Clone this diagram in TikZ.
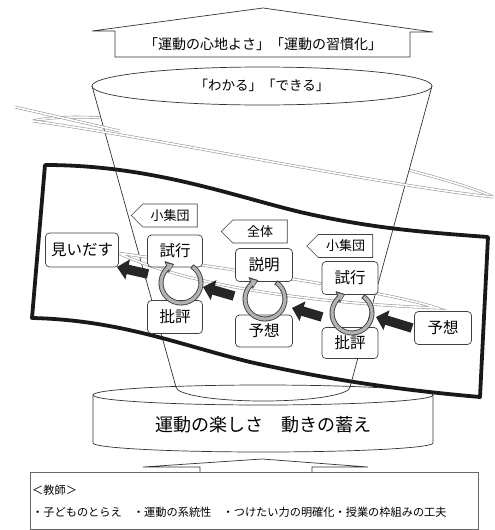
\documentclass[tikz,border=0pt]{standalone}
\usepackage{fontspec}
\setmainfont{Noto Sans CJK JP}
\usetikzlibrary{arrows.meta,shapes.symbols}
\begin{document}
\begin{tikzpicture}[x=1pt,y=-1pt,
  ln/.style={draw=black!80, line width=0.7pt},
  box/.style={draw=black!75, fill=white, rounded corners=4pt, line width=0.7pt, inner sep=0pt, font=\fontsize{15.5}{15.5}\selectfont},
  tag/.style={signal, signal to=west, signal pointer angle=90, draw=black!75, fill=white, line width=0.6pt, inner sep=0pt, minimum width=66pt, minimum height=23pt, font=\fontsize{13}{13}\selectfont},
  ring/.style={draw=black!40, line width=0.6pt, double=white, double distance=1.6pt},
  cyc/.style={line width=5pt, draw=black!75, -{Triangle[length=8pt,width=12pt]}},
  cycin/.style={line width=3.2pt, draw=black!30, -{Triangle[length=5.5pt,width=8pt]}},
  blk/.style={line width=9.5pt, draw=black!85, -{Triangle[length=11pt,width=20pt]}},
  band/.style={draw=black!90, line width=3.8pt, line join=round},
]
\useasboundingbox (0,0) rectangle (495,530);

% upper ring: back edge (hidden by cone)
\coordinate (RL) at (33,121);
\coordinate (RR) at (493,197);
\draw[ring] (RR) .. controls (440,170) and (120,100) .. (RL);

% top arrow
\draw[ln, fill=white] (115,57) -- (115,31) -- (92,31) -- (263,8) -- (433,32) -- (410,32) -- (410,57) -- cycle;
\node[font=\fontsize{14}{14}\selectfont] (toptext) at (263,44) {「運動の心地よさ」「運動の習慣化」};

% cone
\fill[white] (92,86) -- (176,387) -- (350,387) -- (432,86) arc[start angle=0, end angle=-180, x radius=170, y radius=19] -- cycle;
\draw[ln] (262,86) ellipse [x radius=170, y radius=19];
\draw[ln] (92,86) -- (176,387) arc[start angle=180, end angle=0, x radius=87, y radius=14] -- (432,86);
\node[font=\fontsize{13.5}{13.5}\selectfont] (cup) at (262,85) {「わかる」「できる」};

% upper ring: front edge and tail
\draw[ring] (RL) .. controls (150,137) and (380,185) .. (RR);
\coordinate (T1) at (15,107);
\coordinate (T2) at (120,131);
\draw[ring] (T1) -- (T2);

% base
\draw[ln] (263,395) ellipse [x radius=170, y radius=10];
\draw[ln] (93,395) -- (93,443) arc[start angle=180, end angle=0, x radius=170, y radius=9] -- (433,395);
\node[font=\fontsize{18}{18}\selectfont] (base) at (263,425) {運動の楽しさ　動きの蓄え};

% band
\draw[band] (45,165) .. controls (150,165) and (230,195) .. (300,212)
  .. controls (370,228) and (420,232) .. (488,237)
  -- (480,397)
  .. controls (400,390) and (330,380) .. (250,362)
  .. controls (180,345) and (120,320) .. (32,318) -- cycle;

% lower ring
\coordinate (L2) at (118,253);
\coordinate (R2) at (437,308);
\draw[ring] (L2) .. controls (180,282) and (290,302) .. (R2)
  .. controls (395,293) and (250,272) .. (L2);

% boxes
\node[box, minimum width=73pt, minimum height=34pt] (mi) at (82,250) {見いだす};
\node[box, minimum width=55pt, minimum height=32pt] (shiL) at (175,251) {試行};
\node[box, minimum width=55pt, minimum height=33pt] (hiL) at (175,317) {批評};
\node[box, minimum width=57pt, minimum height=33pt] (setsu) at (264,265) {説明};
\node[box, minimum width=57pt, minimum height=32pt] (yoM) at (264,331) {予想};
\node[box, minimum width=56pt, minimum height=33pt] (shiR) at (350,278) {試行};
\node[box, minimum width=56pt, minimum height=31pt] (hiR) at (350,343) {批評};
\node[box, minimum width=57pt, minimum height=33pt] (yoR) at (443,328) {予想};

% tags
\node[tag] (tagL) at (170,215.5) {小集団};
\node[tag] (tagM) at (260,231.5) {全体};
\node[tag] (tagR) at (345.5,246) {小集団};

% cycle arrows
\coordinate (cL) at (181,283);
\coordinate (cM) at (265,299);
\coordinate (cR) at (352,313);
\foreach \c in {cL,cM,cR}{
  \draw[cyc] ([shift={(-57:20)}]\c) arc[start angle=-57, end angle=250, radius=20];
  \draw[cycin] ([shift={(-54:20)}]\c) arc[start angle=-54, end angle=246, radius=20];
}

% black arrows
\coordinate (a1t) at (412,328); \coordinate (a1h) at (376,317);
\coordinate (a2t) at (322,317); \coordinate (a2h) at (292,308);
\coordinate (a3t) at (234,296); \coordinate (a3h) at (203,287);
\coordinate (a4t) at (148,274); \coordinate (a4h) at (117,267);
\draw[blk] (a1t) -- (a1h);
\draw[blk] (a2t) -- (a2h);
\draw[blk] (a3t) -- (a3h);
\draw[blk] (a4t) -- (a4h);

% bottom up-arrow and teacher box
\draw[ln, fill=white] (200,472) -- (200,467) -- (143,467) -- (262,459) -- (368,467) -- (312,467) -- (312,472);
\draw[draw=black!60, line width=0.7pt] (30,472) rectangle (478,529);
\node[anchor=west, inner sep=0pt, font=\fontsize{11.2}{11.2}\selectfont] (t1) at (32,490) {＜教師＞};
\node[anchor=west, inner sep=0pt, font=\fontsize{11.2}{11.2}\selectfont] (t2) at (32,512) {・子どものとらえ　・運動の系統性　・つけたい力の明確化・授業の枠組みの工夫};
\end{tikzpicture}
\end{document}
